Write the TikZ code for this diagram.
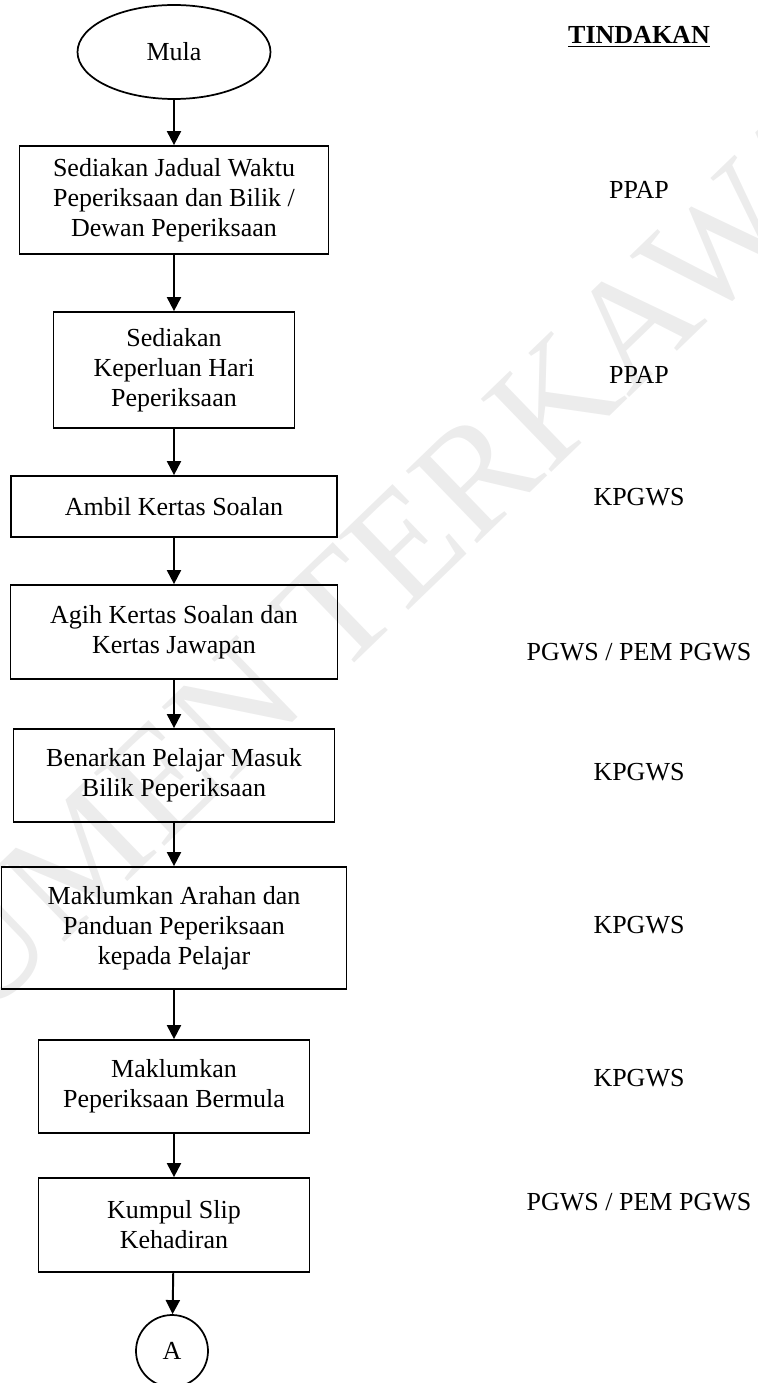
\documentclass[tikz,border=0pt]{standalone}
\usepackage{fontspec}
\setmainfont{Liberation Serif}
\usetikzlibrary{arrows.meta,shapes.geometric,positioning}
\usepackage{xcolor}
\definecolor{Wmark}{RGB}{236,236,236}
\newcommand{\pxu}{0.4615pt}
\tikzset{
  fstep/.style={rectangle,draw=black,line width=0.8pt,align=center,inner sep=0pt,
                font=\fontsize{12}{13.85}\selectfont},
  fsize/.style 2 args={fstep,minimum width=#1*\pxu,minimum height=#2*\pxu},
  fterm/.style={ellipse,draw=black,line width=0.8pt,inner sep=0pt,
                minimum width=193*\pxu,minimum height=94*\pxu,
                font=\fontsize{12}{13.85}\selectfont},
  fconn/.style={circle,draw=black,line width=0.8pt,inner sep=0pt,
                minimum size=72*\pxu,font=\fontsize{12}{13.85}\selectfont},
  fwho/.style={inner sep=0pt,font=\fontsize{12}{13.85}\selectfont},
  fedge/.style={-{Triangle[length=6.5pt,width=6.5pt]},line width=0.9pt},
  wmark/.style={inner sep=0pt,text=Wmark,font=\fontsize{71.5}{80}\selectfont},
}

\begin{document}
\begin{tikzpicture}[x={(\pxu,0)},y={(0,-\pxu)}]
    \useasboundingbox (0,0) rectangle (758,1383);
    \clip (0,0) rectangle (758,1383);
    % watermark
    \node[wmark,rotate=44] (wm) at (306,640) {DOKUMEN TERKAWAL};
    % flow
    \node[fterm] (mula) at (174,52) {Mula};
    \node[fsize={309}{108}] (jadual) at (174,200)
      {Sediakan Jadual Waktu\\ Peperiksaan dan Bilik /\\ Dewan Peperiksaan};
    \node[fsize={241}{116}] (keperluan) at (174,370)
      {Sediakan\\ Keperluan Hari\\ Peperiksaan};
    \node[fsize={326}{61}] (ambil) at (174,506.5) {Ambil Kertas Soalan};
    \node[fsize={327}{94}] (agih) at (174,632)
      {Agih Kertas Soalan dan\\ Kertas Jawapan};
    \node[fsize={321}{93}] (benarkan) at (174,775.5)
      {Benarkan Pelajar Masuk\\ Bilik Peperiksaan};
    \node[fsize={345}{122}] (arahan) at (174,928)
      {Maklumkan Arahan dan\\ Panduan Peperiksaan\\ kepada Pelajar};
    \node[fsize={271}{93}] (bermula) at (174,1086.5)
      {Maklumkan\\ Peperiksaan Bermula};
    \node[fsize={271}{94}] (slip) at (174,1225)
      {Kumpul Slip\\ Kehadiran};
    \node[fconn] (conA) at (172,1351) {A};
    % arrows
    \draw[fedge] (mula) -- (jadual);
    \draw[fedge] (jadual) -- (keperluan);
    \draw[fedge] (keperluan) -- (ambil);
    \draw[fedge] (ambil) -- (agih);
    \draw[fedge] (agih) -- (benarkan);
    \draw[fedge] (benarkan) -- (arahan);
    \draw[fedge] (arahan) -- (bermula);
    \draw[fedge] (bermula) -- (slip);
    \draw[fedge] (slip) -- (conA);
    % tindakan column
    \node[fwho] (tindakan) at (639,37) {\underline{\textbf{TINDAKAN}}};
    \node[fwho] (whoJadual) at (639,190) {PPAP};
    \node[fwho] (whoKeperluan) at (639,375) {PPAP};
    \node[fwho] (whoAmbil) at (639,497) {KPGWS};
    \node[fwho] (whoAgih) at (639,652) {PGWS / PEM PGWS};
    \node[fwho] (whoBenarkan) at (639,772) {KPGWS};
    \node[fwho] (whoArahan) at (639,925) {KPGWS};
    \node[fwho] (whoBermula) at (639,1078) {KPGWS};
    \node[fwho] (whoSlip) at (639,1202) {PGWS / PEM PGWS};
\end{tikzpicture}
\end{document}
